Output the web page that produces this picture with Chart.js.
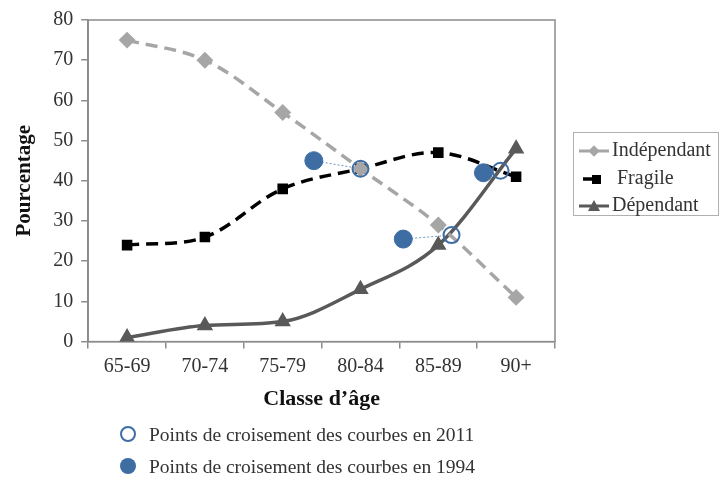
<!DOCTYPE html>
<html>
<head>
<meta charset="utf-8">
<script src="https://cdn.jsdelivr.net/npm/chart.js@4.4.1/dist/chart.umd.min.js"></script>
<style>
  body { margin: 0; background: #fff; }
  #wrap { position: relative; width: 723px; height: 477px; font-family: 'Liberation Serif', serif; color: #333; }
  #legendRight { position: absolute; left: 573px; top: 132px; width: 146px; height: 84px; border: 1px solid #b0b0b0; box-sizing: border-box; }
  .row { position: absolute; left: 4px; height: 26px; font-size: 20px; line-height: 26px; white-space: nowrap; }
  .row svg { vertical-align: middle; margin-right: 2px; }
  #legendBottom { position: absolute; left: 119px; top: 419px; font-size: 19.5px; line-height: 32px; }
  #legendBottom div { white-space: nowrap; }
  #legendBottom svg { vertical-align: -2px; margin-right: 12px; }
</style>
</head>
<body>
<div id="wrap">
  <canvas id="ageChart" width="723" height="477"></canvas>
  <div id="legendRight"></div>
  <div id="legendBottom"></div>
</div>
<script>
// categories and series
const ageClasses = ['65-69', '70-74', '75-79', '80-84', '85-89', '90+'];
const independant = [75, 70, 57, 43, 29, 11];
const fragile = [24, 26, 38, 43, 47, 41];
const dependant = [1, 4, 5, 13, 24, 48];

// crossing points, x given as position along the age classes (0 = 65-69)
const cross2011X = [3, 4.17, 4.8];
const cross2011Y = [43, 26.5, 42.5];
const cross1994X = [2.4, 3.55, 4.58];
const cross1994Y = [45, 25.5, 42];

const seriesNames = ['Indépendant', 'Fragile', 'Dépendant'];
const legendBottomText = ['Points de croisement des courbes en 2011', 'Points de croisement des courbes en 1994'];

const blue = '#3e6da3';
const fontFam = "'Liberation Serif', serif";

function pts(xs, ys) {
  return xs.map((x, i) => ({ x: x, y: ys[i] }));
}

// dotted links between 1994 and 2011 crossing points
const linkSets = cross1994X.map((x, i) => ({
  type: 'line',
  xAxisID: 'x2',
  data: [{ x: x, y: cross1994Y[i] }, { x: cross2011X[i], y: cross2011Y[i] }],
  borderColor: '#6f93c4',
  borderWidth: 1,
  borderDash: [2, 2],
  pointRadius: 0,
  tension: 0,
  order: 0
}));

const frame = {
  id: 'frame',
  beforeDatasetsDraw(chart) {
    const a = chart.chartArea;
    const c = chart.ctx;
    c.save();
    c.strokeStyle = '#8c8c8c';
    c.lineWidth = 1.5;
    c.strokeRect(a.left, a.top, a.right - a.left, a.bottom - a.top);
    c.restore();
  }
};

const ctx = document.getElementById('ageChart').getContext('2d');
new Chart(ctx, {
  type: 'line',
  data: {
    labels: ageClasses,
    datasets: [
      {
        label: seriesNames[0],
        data: independant,
        borderColor: '#a6a6a6',
        backgroundColor: '#a6a6a6',
        borderWidth: 3.5,
        borderDash: [12, 7],
        pointStyle: 'rectRot',
        pointRadius: 6,
        tension: 0.35
      },
      {
        label: seriesNames[1],
        data: fragile,
        borderColor: '#000',
        backgroundColor: '#000',
        borderWidth: 3.5,
        borderDash: [12, 7],
        pointStyle: 'rect',
        pointRadius: 5,
        tension: 0.35
      },
      {
        label: seriesNames[2],
        data: dependant,
        borderColor: '#595959',
        backgroundColor: '#595959',
        borderWidth: 3.5,
        pointStyle: 'triangle',
        pointRadius: 6,
        cubicInterpolationMode: 'monotone'
      },
      ...linkSets,
      {
        type: 'scatter',
        label: '1994',
        xAxisID: 'x2',
        data: pts(cross1994X, cross1994Y),
        backgroundColor: blue,
        borderColor: blue,
        pointRadius: 9,
        order: -1
      },
      {
        type: 'scatter',
        label: '2011',
        xAxisID: 'x2',
        data: pts(cross2011X, cross2011Y),
        backgroundColor: 'rgba(0,0,0,0)',
        borderColor: blue,
        borderWidth: 2,
        pointRadius: 8,
        order: -1
      }
    ]
  },
  options: {
    responsive: false,
    animation: false,
    layout: { padding: { top: 12, right: 168, bottom: 60, left: 8 } },
    plugins: {
      legend: { display: false },
      tooltip: { enabled: false }
    },
    scales: {
      x: {
        type: 'category',
        offset: true,
        grid: { offset: true, drawOnChartArea: false, drawTicks: true, tickLength: 7, color: '#8c8c8c', lineWidth: 1.5 },
        border: { color: '#8c8c8c', width: 1.5 },
        ticks: { color: '#333', font: { family: fontFam, size: 20 }, padding: 6 },
        title: { display: true, text: 'Classe d’âge', color: '#111', font: { family: fontFam, size: 22, weight: 'bold' }, padding: { top: 2 } }
      },
      x2: {
        type: 'linear',
        display: false,
        min: -0.5,
        max: 5.5
      },
      y: {
        min: 0,
        max: 80,
        ticks: { stepSize: 10, color: '#333', font: { family: fontFam, size: 20 }, padding: 8 },
        grid: { drawOnChartArea: false, tickLength: 7, color: '#8c8c8c', lineWidth: 1.5 },
        border: { color: '#8c8c8c', width: 1.5 },
        title: { display: true, text: 'Pourcentage', color: '#111', font: { family: fontFam, size: 21, weight: 'bold' }, padding: { bottom: 8 } }
      }
    }
  },
  plugins: [frame]
});

// right legend
const legSym = [
  '<svg width="32" height="14"><line x1="1" y1="7" x2="31" y2="7" stroke="#a6a6a6" stroke-width="3"/><rect x="12" y="3" width="8" height="8" fill="#a6a6a6" transform="rotate(45 16 7)"/></svg>',
  '<svg width="32" height="14"><line x1="5" y1="7" x2="22" y2="7" stroke="#000" stroke-width="3.5"/><rect x="14" y="3" width="9" height="9" fill="#000"/></svg>',
  '<svg width="32" height="14"><line x1="1" y1="7" x2="31" y2="7" stroke="#595959" stroke-width="3"/><polygon points="16,1 22,12 10,12" fill="#595959"/></svg>'
];
const lr = document.getElementById('legendRight');
const rowTops = [3, 31, 58];
seriesNames.forEach((n, i) => {
  const d = document.createElement('div');
  d.className = 'row';
  d.style.top = rowTops[i] + 'px';
  d.innerHTML = legSym[i] + (i === 1 ? '&nbsp;' : '') + n;
  lr.appendChild(d);
});

// bottom legend
const lb = document.getElementById('legendBottom');
const botSym = [
  '<svg width="18" height="18"><circle cx="9" cy="9" r="7" fill="none" stroke="' + blue + '" stroke-width="2"/></svg>',
  '<svg width="18" height="18"><circle cx="9" cy="9" r="8" fill="' + blue + '"/></svg>'
];
legendBottomText.forEach((t, i) => {
  const d = document.createElement('div');
  d.innerHTML = botSym[i] + t;
  lb.appendChild(d);
});
</script>
</body>
</html>
